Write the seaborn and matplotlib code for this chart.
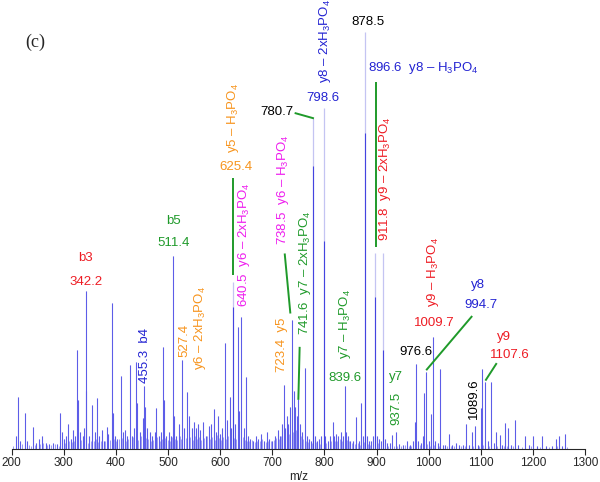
import matplotlib
matplotlib.use("Agg")
import matplotlib.pyplot as plt
import seaborn as sns

# ---- peak list (m/z, relative intensity %) ----
peak_mz = [208, 212.7, 216, 225, 230, 241, 247, 252, 258.6, 265, 272, 280, 287,
           292.6, 296, 300, 305, 308.5, 313, 318, 322, 324.5, 327.7, 331, 336, 339,
           342.3, 343.5, 349, 355, 359, 364, 368, 373, 377, 382, 385, 391.6, 394,
           398, 403, 409.5, 413, 417, 421, 426.7, 430, 435, 438, 440, 446, 451,
           454.2, 456, 460, 465, 470, 474, 477.8, 482, 486, 490.6, 492.5, 497, 501,
           505, 509.7, 512, 516, 521, 527, 531, 537.2, 540, 545, 549, 553, 557, 562,
           567, 572, 578, 582, 588, 592, 596, 600, 604, 608.8, 613, 618, 621, 624.7,
           628, 634.3, 637, 640.7, 645, 650.3, 654, 658, 663, 668, 673, 678, 684,
           690, 694, 700, 705, 710, 715, 718, 721.8, 725, 728, 731, 734.7, 737.8,
           741.6, 744, 747, 750, 753, 757, 762, 766, 770, 774, 778, 782, 786, 790,
           794, 798.6, 802, 806, 810, 815.7, 819, 823, 827, 831, 835, 838.8, 842,
           846, 850, 855, 861, 866, 870.6, 874, 878.5, 882, 886, 890, 893, 896.6,
           900, 904, 908, 911.8, 916, 920, 925, 930, 937.8, 943, 950, 958, 965, 970,
           973, 976.2, 980, 985, 989, 992, 995.3, 1000, 1005, 1008.7, 1013, 1017,
           1022, 1027, 1032, 1039.4, 1045, 1052, 1058, 1065, 1072, 1078, 1083,
           1088.5, 1094, 1100.7, 1102.6, 1108.4, 1113, 1120.5, 1125, 1129.5, 1137,
           1141, 1146, 1153, 1158, 1165, 1172, 1184, 1192, 1200, 1208, 1217, 1225,
           1236, 1244, 1250, 1256, 1261.7]
peak_int = [3, 12.5, 2, 8.6, 2, 5.3, 1.5, 2.5, 3.2, 1.5, 1.2, 1.5, 1.2,
            8.6, 4, 2.5, 3, 6, 2.5, 4.5, 3, 23.7, 11.7, 4, 3, 5,
            37.9, 14, 3, 10.6, 4, 12.2, 3, 4.5, 2, 5.3, 3.5, 35.1, 8.6,
            3, 2.5, 17.6, 4, 4.5, 3, 20.1, 3, 5, 20.9, 11, 4, 7.5,
            15, 10, 5, 4, 3, 4, 9.8, 3, 4, 24.5, 11.7, 3, 4,
            3, 46.3, 8, 3, 6, 21.3, 5, 13.7, 8, 5, 6.5, 5, 6, 4.5,
            6.5, 3, 5.5, 6, 9.6, 4, 8, 3.5, 5, 25.4, 7, 12.5, 5, 40,
            6, 29.3, 9, 31.7, 5, 17.3, 3, 2.5, 2, 3, 2.5, 3.5, 2,
            4, 2.5, 2, 3, 4.5, 3, 6, 15.3, 5, 8, 6, 10, 31,
            14, 10, 8, 12, 6, 4, 19.4, 3, 2.5, 2, 79.3, 3, 2, 2.5,
            3, 81.7, 3, 2, 3, 6.5, 3, 3.5, 3, 4, 3, 15, 4,
            3, 2, 2, 7.7, 2, 11, 3, 100, 3, 2, 2, 3, 47,
            3, 2.5, 2, 47, 2.5, 1.5, 1.5, 3.4, 4, 1.2, 1, 2, 1, 2,
            6.5, 20.5, 2, 1.5, 3, 13.4, 18.5, 2, 8.5, 26.9, 2, 1.5,
            19.3, 1, 1, 3.5, 1, 1.5, 1, 1, 6, 1, 4,
            5.6, 1, 9.8, 19.3, 16.1, 2, 16.1, 1.5, 4, 3.4,
            1, 6.3, 5, 1, 7, 1, 3, 1, 3, 0.8, 3, 0.8,
            0.8, 2.5, 3, 0.8, 3.6]

# small baseline peaks
noise_mz = [203, 219, 234, 237, 244, 255, 261, 268, 276, 283, 290, 302, 310, 315,
            320, 333, 346, 352, 357, 362, 366, 371, 379, 388, 396, 401, 406, 411,
            419, 424, 432, 443, 448, 458, 462, 467, 472, 479, 484, 488, 495, 499,
            503, 507, 514, 518, 523, 525, 534, 543, 547, 551, 555, 559, 564, 569,
            575, 580, 585, 590, 594, 598, 602, 606, 611, 615, 626, 631, 643, 648,
            652, 656, 661, 666, 671, 676, 681, 687, 692, 697, 703, 708, 713, 716,
            723, 733, 739, 745, 748, 755, 759, 764, 768, 776, 784, 792, 804, 812,
            817, 821, 825, 829, 833, 840, 844, 848, 853, 858, 864, 868, 876, 884,
            888, 902, 913, 922, 933, 940, 947, 955, 962, 967, 983, 997, 1003, 1010,
            1019, 1035, 1042, 1048, 1062, 1069, 1086, 1097, 1105, 1116, 1132, 1144,
            1150, 1162, 1179, 1196, 1213, 1231, 1247, 1266]
noise_int = [0.6, 1.2, 1.0, 0.8, 0.9, 1.1, 1.4, 0.9, 1.0, 1.2, 0.8, 1.5, 2.0, 1.6,
             1.8, 2.2, 1.5, 2.0, 1.8, 2.4, 1.6, 2.0, 1.8, 2.2, 2.5, 1.9, 2.3, 2.6,
             2.0, 2.4, 2.8, 2.2, 3.0, 2.6, 2.4, 2.0, 2.2, 2.8, 2.0, 2.4, 2.6, 2.2,
             2.0, 2.8, 2.5, 2.2, 3.0, 2.4, 2.6, 2.8, 2.2, 3.2, 2.4, 2.8, 2.2, 2.6,
             3.0, 2.4, 2.8, 2.2, 3.4, 2.6, 2.2, 2.8, 2.4, 3.0, 2.6, 2.4, 2.8, 2.2,
             2.0, 1.8, 2.2, 1.6, 2.0, 1.8, 2.4, 1.6, 2.0, 1.8, 2.2, 2.6, 2.4, 3.0,
             3.2, 3.6, 4.0, 4.5, 3.8, 3.0, 2.4, 1.8, 1.6, 1.4, 1.6, 1.2, 1.4, 1.8,
             2.2, 1.8, 2.0, 2.4, 2.0, 2.6, 2.2, 1.8, 1.4, 1.2, 1.4, 1.0, 1.6, 1.2,
             1.0, 1.4, 1.2, 0.8, 0.8, 0.6, 0.7, 0.9, 0.6, 0.8, 1.0, 1.2, 0.8, 1.0,
             0.8, 0.6, 0.7, 0.6, 0.6, 0.7, 0.8, 0.6, 0.9, 0.8, 0.7, 0.8,
             0.6, 0.7, 0.5, 0.6, 0.5, 0.5, 0.6, 0.5]

# tall peaks: pale upper part above a darker core
pale_mz = [624.7, 778, 798.6, 878.5, 896.6, 911.8]
core_int = [34, 68, 50, 75.8, 36.5, 23.7]

# ---- labels: (text, m/z, intensity, colour, rotation, ha) ----
H3 = "H$_3$PO$_4$"
labels = [
    ("b3", 342.2, 45.7, "red", 0, "center"),
    ("342.2", 342.2, 40.1, "red", 0, "center"),
    ("b5", 509.7, 54.7, "green", 0, "center"),
    ("511.4", 509.7, 49.3, "green", 0, "center"),
    ("455.3  b4", 455.5, 22.4, "blue", 90, "center"),
    ("527.4", 532, 26.1, "orange", 90, "center"),
    ("y6 \u2013 2x" + H3, 560.9, 29.1, "orange", 90, "center"),
    ("y5 \u2013 " + H3, 624.7, 79.5, "orange", 90, "center"),
    ("625.4", 629.9, 67.7, "orange", 0, "center"),
    ("640.5  y6 \u2013 2x" + H3, 645.2, 48.9, "magenta", 90, "center"),
    ("738.5  y6 \u2013 " + H3, 720.5, 62.1, "magenta", 90, "center"),
    ("741.6  y7 \u2013 2x" + H3, 762.1, 42.4, "green", 90, "center"),
    ("723.4  y5", 719.4, 24.9, "orange", 90, "center"),
    ("780.7", 707.9, 80.9, "black", 0, "center"),
    ("798.6", 797.2, 84.2, "blue", 0, "center"),
    ("y8 \u2013 2x" + H3, 800.4, 97.8, "blue", 90, "center"),
    ("878.5", 883.4, 102.5, "black", 0, "center"),
    ("896.6  y8 \u2013 " + H3, 882.8, 91.4, "blue", 0, "left"),
    ("911.8  y9 \u2013 2x" + H3, 915.4, 64.9, "red", 90, "center"),
    ("y9 \u2013 " + H3, 1007.4, 42.4, "red", 90, "center"),
    ("1009.7", 1011.5, 30.3, "red", 0, "center"),
    ("y8", 1094.2, 39.3, "blue", 0, "center"),
    ("994.7", 1100.7, 34.5, "blue", 0, "center"),
    ("976.6", 976.2, 23.3, "black", 0, "center"),
    ("y9", 1145.4, 26.9, "red", 0, "center"),
    ("1107.6", 1155, 22.5, "red", 0, "center"),
    ("1089.6", 1086, 12, "black", 90, "center"),
    ("y7 \u2013 " + H3, 838.8, 30, "green", 90, "center"),
    ("839.6", 838.8, 17, "green", 0, "center"),
    ("y7", 937.8, 17.3, "green", 0, "center"),
    ("937.5", 937.8, 9.8, "green", 90, "center"),
]

# leader lines: (x0, y0, x1, y1)
leaders = [
    (624.7, 65, 624.7, 41.7),
    (723.8, 46.9, 734.7, 32.5),
    (752.5, 24.5, 750, 11.8),
    (742.9, 80.6, 779.9, 79.3),
    (898.2, 88, 898.2, 48.4),
    (1083.5, 31.9, 995.3, 18.9),
    (1130.6, 20.6, 1108.9, 16.4),
]

colours = {"red": "#ee1c24", "green": "#1f9a2a", "blue": "#2323d2",
           "orange": "#f7941d", "magenta": "#ee1cee", "black": "black"}

sns.set_style("ticks")
plt.rcParams["font.family"] = ["Liberation Sans", "DejaVu Sans"]
plt.rcParams["mathtext.fontset"] = "custom"
plt.rcParams["mathtext.rm"] = "Liberation Sans"
plt.rcParams["mathtext.it"] = "Liberation Sans:italic"
plt.rcParams["mathtext.default"] = "regular"

fig = plt.figure(figsize=(6, 4.82), dpi=100)
ax = fig.add_axes([11.7 / 600, 33 / 482, 573.3 / 600, 449 / 482])

# peaks: pale full height, then darker body
ax.vlines(noise_mz, 0, noise_int, color="#7070ec", lw=0.5)
ax.vlines(peak_mz, 0, peak_int, color="#c4c4f2", lw=0.9)
solid = [0 if m in pale_mz else v for m, v in zip(peak_mz, peak_int)]
ax.vlines(peak_mz, 0, solid, color="#5a5ae8", lw=0.7)
ax.vlines(pale_mz, 0, core_int, color="#4444e0", lw=0.8)

for x0, y0, x1, y1 in leaders:
    ax.plot([x0, x1], [y0, y1], color="#1f9a2a", lw=1.4, solid_capstyle="butt")

for txt, x, y, c, rot, ha in labels:
    ax.text(x, y, txt, color=colours[c], rotation=rot, ha=ha, va="center",
            fontsize=9.5)

ax.set_xlim(200, 1300)
ax.set_ylim(0, 107.7)
ax.set_xticks(range(200, 1301, 100))
ax.set_yticks([])
ax.tick_params(axis="x", direction="out", length=4, width=0.8, labelsize=8.5, pad=2)
sns.despine(ax=ax, left=True)
ax.spines["bottom"].set_linewidth(0.8)
ax.set_xlabel("m/z", fontsize=8.5, labelpad=1)

fig.text(35 / 600, 1 - 42 / 482, "(c)", fontsize=13, family="Liberation Serif",
         ha="center", va="center")

fig.savefig("out.png", dpi=100)
